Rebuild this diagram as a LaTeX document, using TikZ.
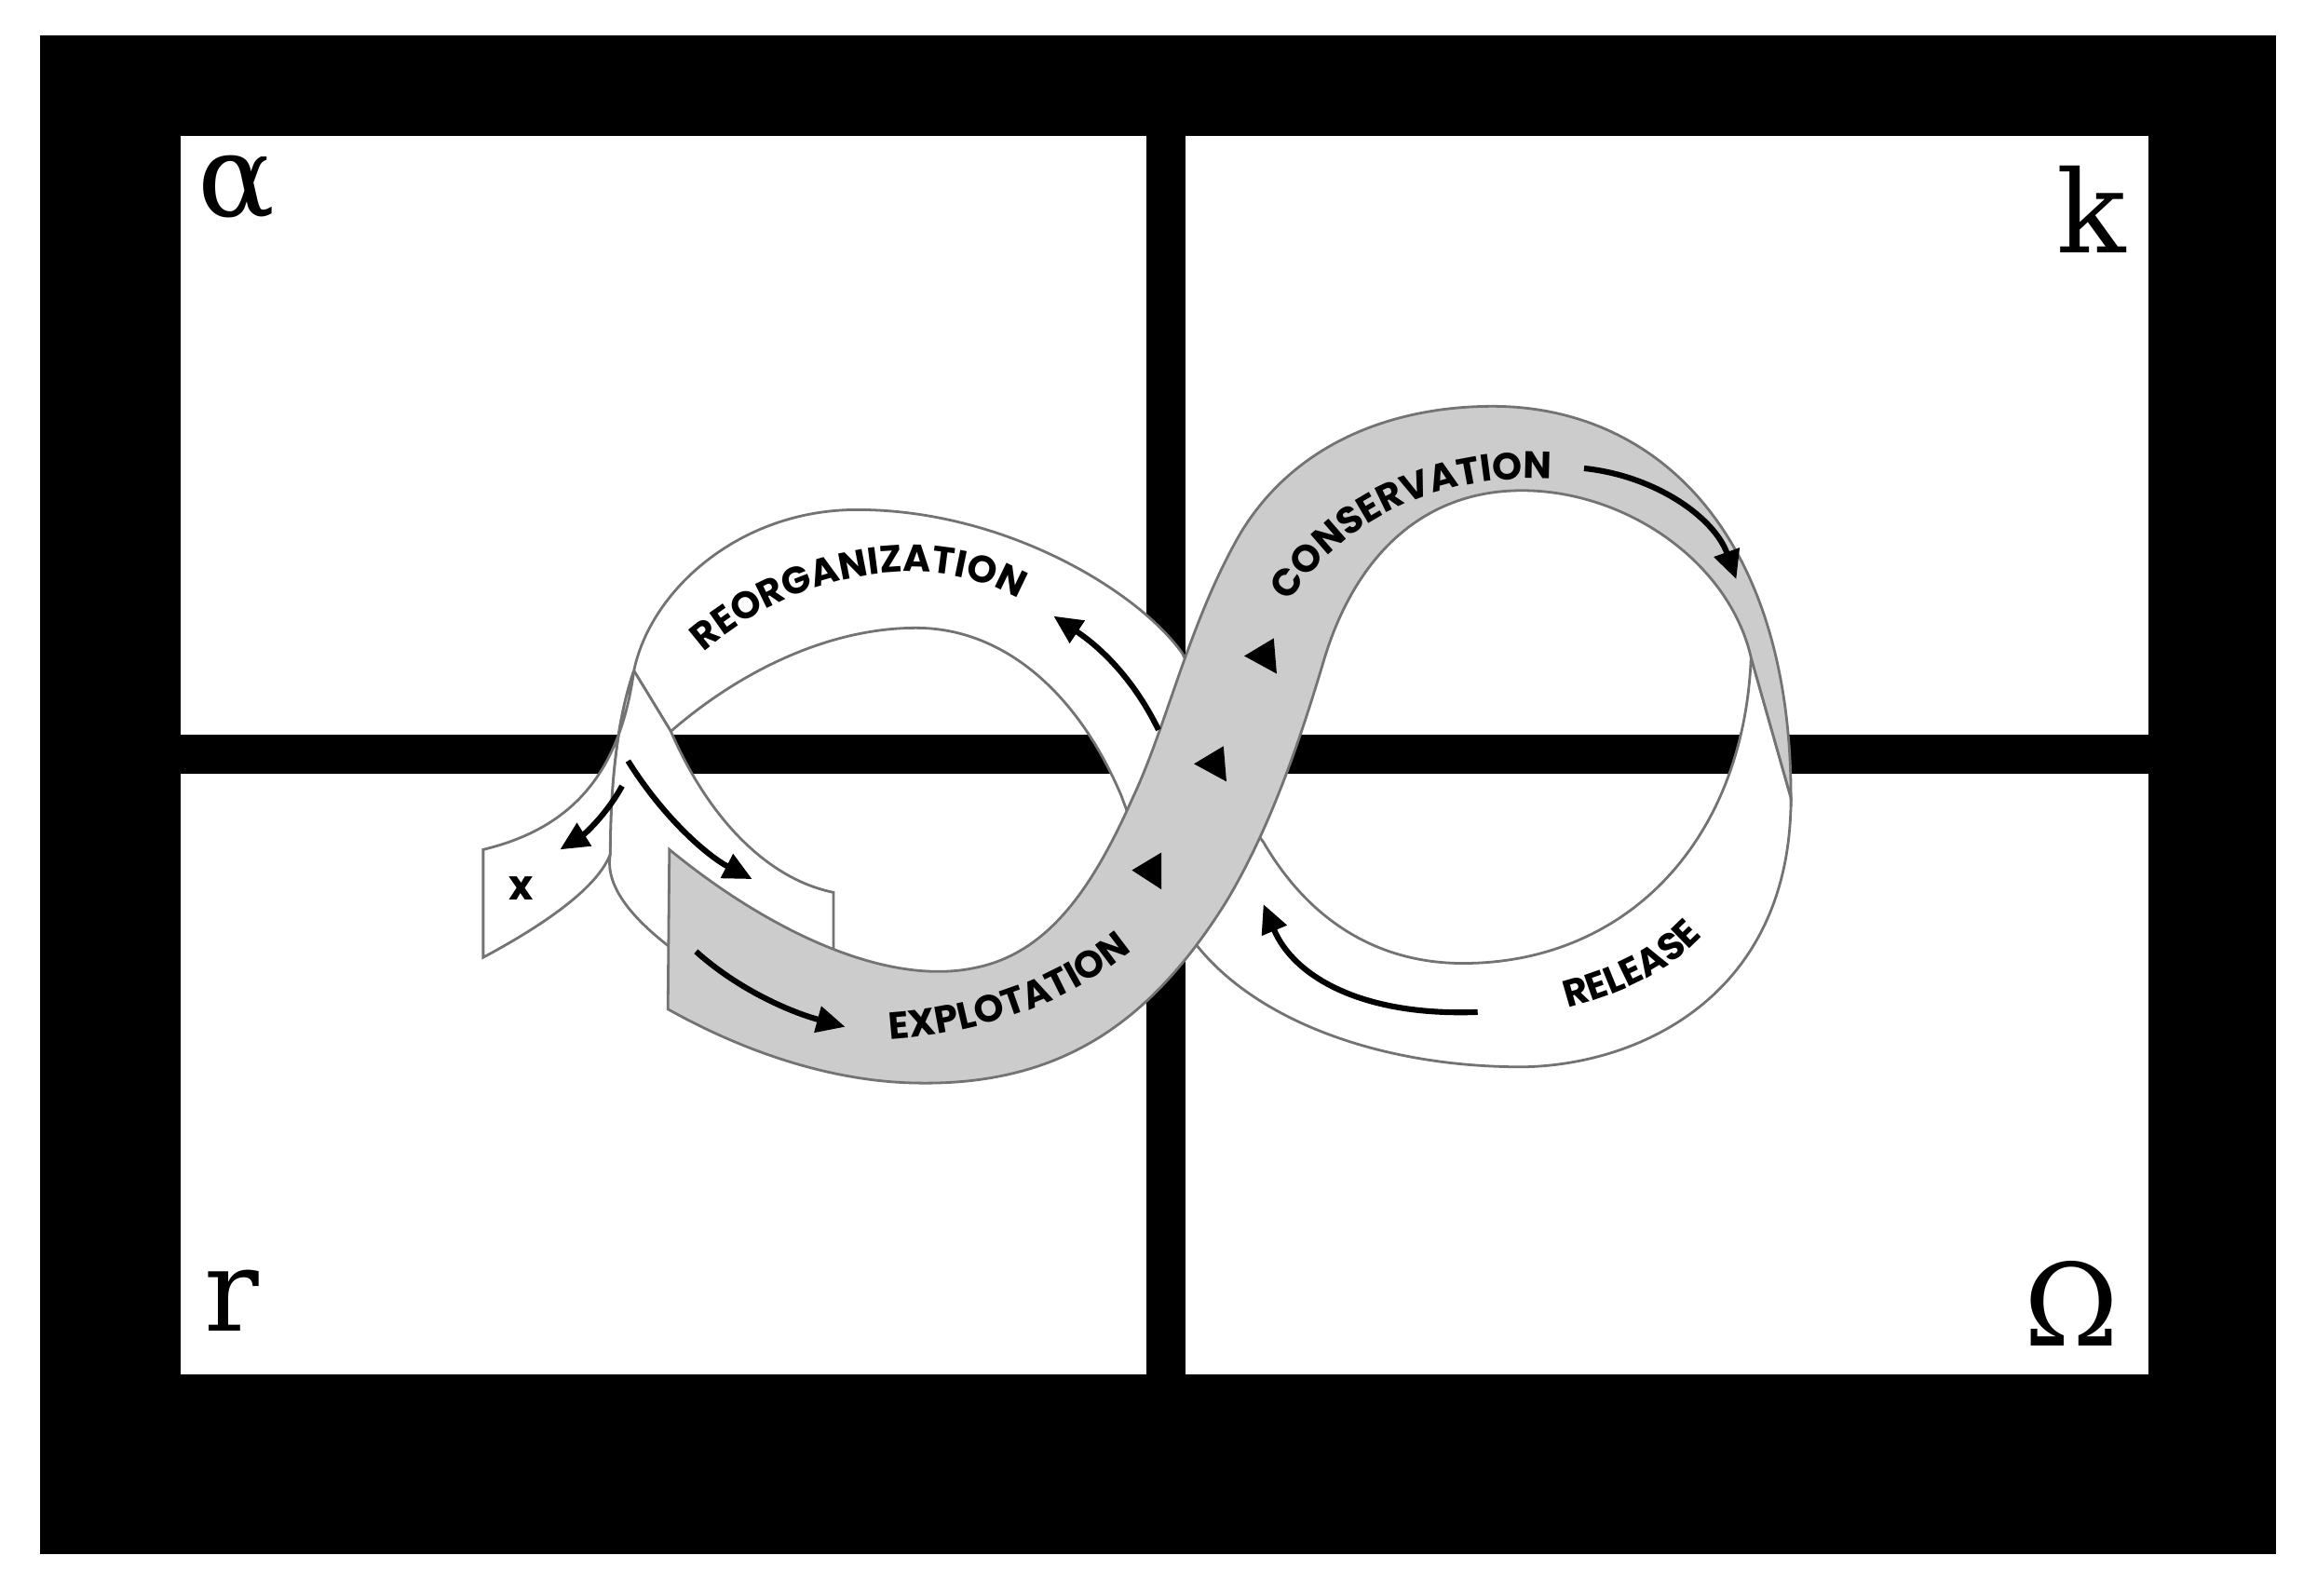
\documentclass[tikz,border=0pt]{standalone}
\usepackage{fontspec}
\usetikzlibrary{arrows.meta,decorations.text}
\newfontfamily\lab{Poppins}
\newfontfamily\ser{DejaVu Serif}
\begin{document}
\begin{tikzpicture}[x=0.01cm,y=-0.01cm,
  edge/.style={draw=black!55,line width=0.5pt},
  band/.style={edge,fill=white},
  gband/.style={edge,fill=black!20},
  arr/.style={line width=1.1pt,-{Triangle[length=5.5pt,width=5pt]}},
  tri/.style={fill=black},
  big/.style={font=\ser\fontsize{22}{22}\selectfont,inner sep=0},
  lbl/.style={decorate,decoration={text along path,text align=center,
     text={|\lab\bfseries\fontsize{7.3}{8}\selectfont|#1}}}]
\useasboundingbox (0,0) rectangle (1568,1080);
\fill[white] (0,0) rectangle (1568,1080);
\fill[black] (27,24) rectangle (1540,1052);
\fill[white] (122,92) rectangle (776,497);
\fill[white] (802,92) rectangle (1454,497);
\fill[white] (122,524) rectangle (776,930);
\fill[white] (802,524) rectangle (1454,930);
\node[big] (al) at (160,127) {α};
\node[big] (kk) at (1415,142) {k};
\node[big] (rr) at (157,880) {r};
\node[big] (om) at (1402,882) {Ω};
% white band (release + reorganization)
\path[band] (1212,540) .. controls (1212,680) and (1100,725) .. (1020,722)
  .. controls (930,720) and (850,690) .. (810,640)
  .. controls (790,610) and (770,570) .. (759,539)
  .. controls (730,470) and (680,425) .. (620,425)
  .. controls (560,425) and (500,455) .. (454,495)
  -- (429,454)
  .. controls (440,400) and (500,345) .. (580,345)
  .. controls (680,345) and (770,400) .. (800,442)
  .. controls (820,480) and (835,545) .. (855,570)
  .. controls (890,630) and (940,652) .. (990,652)
  .. controls (1100,652) and (1180,570) .. (1185,445) -- cycle;
% right strand
\path[band] (429,454) -- (454,495) .. controls (480,555) and (520,595) .. (564,604)
  -- (564,660) -- (452,640) .. controls (420,615) and (410,595) .. (413,578)
  .. controls (413,520) and (420,480) .. (429,454);
% x flap
\path[band] (429,454) .. controls (420,520) and (390,560) .. (327,575) -- (327,648)
  .. controls (370,625) and (405,600) .. (413,578)
  .. controls (413,520) and (420,480) .. (429,454);
% grey band
\path[gband] (453,575) .. controls (520,630) and (600,668) .. (660,655)
  .. controls (710,645) and (740,600) .. (767,539)
  .. controls (790,490) and (805,420) .. (840,360)
  .. controls (880,295) and (950,275) .. (1010,275)
  .. controls (1120,275) and (1212,360) .. (1212,540)
  -- (1185,445)
  .. controls (1170,380) and (1100,332) .. (1030,332)
  .. controls (960,332) and (915,380) .. (895,450)
  .. controls (880,500) and (860,560) .. (830,610)
  .. controls (780,690) and (720,735) .. (620,733)
  .. controls (560,732) and (500,710) .. (452,683) -- cycle;
% triangles
\fill[tri] (842,444) -- (862,432) -- (864,456) -- cycle;
\fill[tri] (808,517) -- (828,505) -- (830,529) -- cycle;
\fill[tri] (766,589) -- (786,577) -- (786,602) -- cycle;
% arrows
\coordinate (a1s) at (421,532); \coordinate (a1e) at (379,575);
\coordinate (a2s) at (425,515); \coordinate (a2e) at (509,595);
\coordinate (a3s) at (471,644); \coordinate (a3e) at (572,695);
\coordinate (a4s) at (784,494); \coordinate (a4e) at (713,417);
\coordinate (a5s) at (1072,317); \coordinate (a5e) at (1175,392);
\coordinate (a6s) at (1000,685); \coordinate (a6e) at (855,612);
\draw[arr] (a1s) .. controls (410,552) and (395,565) .. (a1e);
\draw[arr] (a2s) .. controls (450,555) and (480,580) .. (a2e);
\draw[arr] (a3s) .. controls (500,670) and (535,685) .. (a3e);
\draw[arr] (a4s) .. controls (765,455) and (740,435) .. (a4e);
\draw[arr] (a5s) .. controls (1120,322) and (1160,350) .. (a5e);
\draw[arr] (a6s) .. controls (920,688) and (875,660) .. (a6e);
% labels
\path[lbl={REORGANIZATION}] (464,453) .. controls (530,385) and (640,365) .. (703,415);
\path[lbl={CONSERVATION}] (870,413) .. controls (905,350) and (980,318) .. (1056,325);
\path[lbl={EXPLOTATION}] (597,704) .. controls (670,700) and (730,675) .. (770,640);
\path[lbl={RELEASE}] (1054,684) .. controls (1100,673) and (1135,655) .. (1157,628);
\node[font=\lab\bfseries\fontsize{8}{8}\selectfont] (xx) at (353,601) {x};
\end{tikzpicture}
\end{document}
